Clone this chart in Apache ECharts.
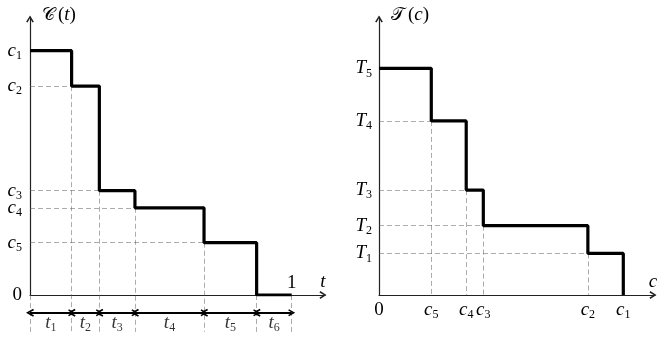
<!DOCTYPE html>
<html>
<head>
<meta charset="utf-8">
<script src="https://cdn.jsdelivr.net/npm/echarts@6/dist/echarts.min.js"></script>
<style>
  html, body { margin: 0; background: #fff; }
  #chart { width: 665px; height: 339px; }
</style>
</head>
<body>
<div id="chart"></div>
<script>
// lengths of the slices t1..t6 of the unit interval
const tWidths = [0.159, 0.106, 0.136, 0.264, 0.201, 0.134]
// levels c1..c5 (c1 = 1)
const cLevels = [1, 0.855, 0.427, 0.357, 0.214]
const tSubs = ['1', '2', '3', '4', '5', '6']
const cSubs = ['1', '2', '3', '4', '5']
const TSubs = ['1', '2', '3', '4', '5']

// T_k = t1 + ... + tk
const tBreaks = []
tWidths.reduce((acc, w) => { tBreaks.push(+(acc + w).toFixed(3)); return acc + w }, 0)
const TLevels = tBreaks.slice(0, 5)

const FONT = 'Liberation Serif'
const DASH = { color: '#5a5a5a', width: 1, type: [5, 3] }
// open arrow head, pointing up
const chevron = 'path://M5,0 L10,8 L8.2,9 L5,3.6 L1.8,9 L0,8 Z'
const rich = {
  i: { fontFamily: FONT, fontStyle: 'italic', fontSize: 19, lineHeight: 22, color: '#000' },
  s: { fontFamily: FONT, fontSize: 12, lineHeight: 10, verticalAlign: 'bottom', color: '#000' },
  n: { fontFamily: FONT, fontSize: 19, lineHeight: 22, color: '#000' },
  cal: { fontFamily: 'DejaVu Serif', fontSize: 18, lineHeight: 22, color: '#000', padding: [0, 3, 0, 0] }
}
const sub = (letter, s) => `{i|${letter}}{s|${s}}`
const near = (a, b) => Math.abs(a - b) < 1e-6

const axisLine = {
  show: true,
  symbol: ['none', chevron],
  symbolSize: [8, 7],
  symbolOffset: [0, -2],
  lineStyle: { color: '#222', width: 1.2 }
}

// step curves
const cStep = [[0, cLevels[0]]]
for (let k = 0; k < 6; k++) cStep.push([tBreaks[k], k + 1 < 5 ? cLevels[k + 1] : 0])
const TStep = [[0, TLevels[4]]]
for (let k = 4; k >= 0; k--) TStep.push([cLevels[k], k > 0 ? TLevels[k - 1] : 0])

// guides, left panel
const below = -0.151
const arrowY = -0.0725
const labelY = -0.115
const leftGuides = []
for (let k = 1; k < 5; k++) leftGuides.push({ coords: [[0, cLevels[k]], [tBreaks[k - 1], cLevels[k]]] })
for (let k = 0; k < 6; k++) {
  const top = k + 1 < 5 ? cLevels[k + 1] : 0
  leftGuides.push({ coords: [[tBreaks[k], top], [tBreaks[k], below]] })
}
leftGuides.push({ coords: [[0, 0], [0, below]] })

const spans = tWidths.map((w, k) => ({ coords: [[k ? tBreaks[k - 1] : 0, arrowY], [tBreaks[k], arrowY]] }))
const spanLabels = tWidths.map((w, k) => ({ value: [(k ? tBreaks[k - 1] : 0) + w / 2, labelY], name: tSubs[k] }))

// guides, right panel
const rightGuides = []
for (let k = 0; k < 4; k++) {
  rightGuides.push({ coords: [[0, TLevels[k]], [cLevels[k + 1], TLevels[k]]] })
  rightGuides.push({ coords: [[cLevels[k + 1], TLevels[k]], [cLevels[k + 1], 0]] })
}

const chart = echarts.init(document.getElementById('chart'), null, { renderer: 'canvas' })

chart.setOption({
  backgroundColor: '#fff',
  animation: false,
  grid: [
    { left: 30, top: 17, width: 295, height: 278 },
    { left: 379, top: 17, width: 276, height: 278 }
  ],
  xAxis: [
    {
      gridIndex: 0, type: 'value', min: 0, max: 295 / 261.7,
      axisLine, axisTick: { show: false }, splitLine: { show: false },
      name: '{i|t}', nameGap: -2,
      nameTextStyle: { rich, align: 'center', verticalAlign: 'bottom', padding: [0, 0, 2, 0] },
      axisLabel: {
        customValues: [1], inside: true, margin: 1,
        formatter: () => '{n|1}', rich
      }
    },
    {
      gridIndex: 1, type: 'value', min: 0, max: 276 / 244.3,
      axisLine, axisTick: { show: false }, splitLine: { show: false },
      name: '{i|c}', nameGap: -2,
      nameTextStyle: { rich, align: 'center', verticalAlign: 'bottom', padding: [0, 0, 2, 0] },
      axisLabel: {
        customValues: [0, ...cLevels], margin: 4, rich,
        formatter: v => {
          if (near(v, 0)) return '{n|0}'
          const k = cLevels.findIndex(c => near(c, v))
          return sub('c', cSubs[k])
        }
      }
    }
  ],
  yAxis: [
    {
      gridIndex: 0, type: 'value', min: 0, max: 278 / 244.3,
      axisLine, axisTick: { show: false }, splitLine: { show: false },
      name: '{cal|𝒞}{n|(}{i|t}{n|)}', nameGap: 2,
      nameTextStyle: { rich, align: 'left', verticalAlign: 'middle', padding: [0, 0, 0, 12] },
      axisLabel: {
        customValues: [0, ...cLevels], margin: 8, rich,
        formatter: v => {
          if (near(v, 0)) return '{n|0}'
          const k = cLevels.findIndex(c => near(c, v))
          return sub('c', cSubs[k])
        }
      }
    },
    {
      gridIndex: 1, type: 'value', min: 0, max: 278 / 261.7,
      axisLine, axisTick: { show: false }, splitLine: { show: false },
      name: '{cal|𝒯}{n|(}{i|c}{n|)}', nameGap: 2,
      nameTextStyle: { rich, align: 'left', verticalAlign: 'middle', padding: [0, 0, 0, 12] },
      axisLabel: {
        customValues: TLevels, margin: 7, rich,
        formatter: v => sub('T', TSubs[TLevels.findIndex(t => near(t, v))])
      }
    }
  ],
  series: [
    {
      type: 'lines', coordinateSystem: 'cartesian2d', xAxisIndex: 0, yAxisIndex: 0,
      clip: false, silent: true, symbol: 'none',
      lineStyle: DASH, data: leftGuides
    },
    {
      type: 'lines', coordinateSystem: 'cartesian2d', xAxisIndex: 1, yAxisIndex: 1,
      clip: false, silent: true, symbol: 'none',
      lineStyle: DASH, data: rightGuides
    },
    {
      type: 'lines', coordinateSystem: 'cartesian2d', xAxisIndex: 0, yAxisIndex: 0,
      clip: false, silent: true, symbol: [chevron, chevron], symbolSize: [8, 7],
      lineStyle: { color: '#000', width: 2, opacity: 1 }, data: spans
    },
    {
      type: 'scatter', xAxisIndex: 0, yAxisIndex: 0, clip: false, silent: true,
      symbolSize: 1, itemStyle: { color: 'rgba(0,0,0,0)' },
      label: {
        show: true, position: 'inside', rich,
        formatter: p => sub('t', p.name)
      },
      data: spanLabels
    },
    {
      type: 'line', xAxisIndex: 0, yAxisIndex: 0, step: 'end', symbol: 'none',
      lineStyle: { color: '#000', width: 3.2 }, data: cStep, z: 5
    },
    {
      type: 'line', xAxisIndex: 1, yAxisIndex: 1, step: 'end', symbol: 'none',
      lineStyle: { color: '#000', width: 3.2 }, data: TStep, z: 5
    }
  ]
})

window.addEventListener('resize', () => chart.resize())
</script>
</body>
</html>
